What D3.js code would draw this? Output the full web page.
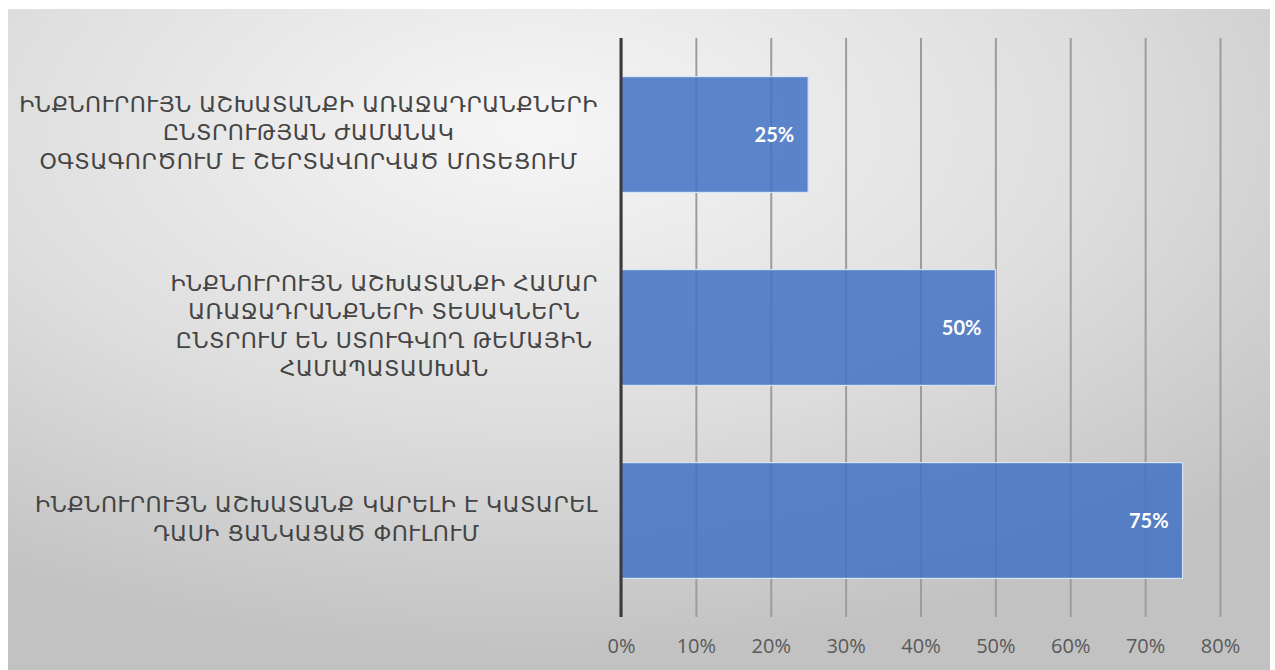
<!DOCTYPE html>
<html>
<head>
<meta charset="utf-8">
<script src="https://cdn.jsdelivr.net/npm/d3@7"></script>
<style>
  body { margin: 0; background: #fff; }
  svg { display: block; }
</style>
</head>
<body>
<div id="chart"></div>
<script>
const svgWidth = 1275
const svgHeight = 670

// category labels, already wrapped as in the picture
const categories = [
  ["ԻՆՔՆՈՒՐՈՒՅՆ ԱՇԽԱՏԱՆՔԻ ԱՌԱՋԱԴՐԱՆՔՆԵՐԻ", "ԸՆՏՐՈՒԹՅԱՆ ԺԱՄԱՆԱԿ", "ՕԳՏԱԳՈՐԾՈՒՄ Է ՇԵՐՏԱՎՈՐՎԱԾ ՄՈՏԵՑՈՒՄ"],
  ["ԻՆՔՆՈՒՐՈՒՅՆ ԱՇԽԱՏԱՆՔԻ ՀԱՄԱՐ", "ԱՌԱՋԱԴՐԱՆՔՆԵՐԻ ՏԵՍԱԿՆԵՐՆ", "ԸՆՏՐՈՒՄ ԵՆ ՍՏՈՒԳՎՈՂ ԹԵՄԱՅԻՆ", "ՀԱՄԱՊԱՏԱՍԽԱՆ"],
  ["ԻՆՔՆՈՒՐՈՒՅՆ ԱՇԽԱՏԱՆՔ ԿԱՐԵԼԻ Է ԿԱՏԱՐԵԼ", "ԴԱՍԻ ՑԱՆԿԱՑԱԾ ՓՈՒԼՈՒՄ"]
]
const values = [25, 50, 75]
const tickValues = [0, 10, 20, 30, 40, 50, 60, 70, 80]

const plot = { left: 621, right: 1220, top: 38, bottom: 617 }
const labelRight = 598
const lineHeight = 28.5

const svg = d3.select("#chart").append("svg")
  .attr("width", svgWidth)
  .attr("height", svgHeight)

const defs = svg.append("defs")
const grad = defs.append("radialGradient")
  .attr("id", "bg")
  .attr("cx", "42%").attr("cy", "18%")
  .attr("r", "80%")
  .attr("gradientUnits", "objectBoundingBox")
grad.append("stop").attr("offset", "0%").attr("stop-color", "#f6f6f6")
grad.append("stop").attr("offset", "55%").attr("stop-color", "#dedede")
grad.append("stop").attr("offset", "100%").attr("stop-color", "#c2c2c2")

svg.append("rect")
  .attr("x", 8).attr("y", 9)
  .attr("width", 1262).attr("height", svgHeight - 9)
  .attr("fill", "url(#bg)")

const x = d3.scaleLinear()
  .domain([0, 80])
  .range([plot.left, plot.right])

const y = d3.scaleBand()
  .domain(d3.range(categories.length))
  .range([plot.top, plot.bottom])
  .paddingInner(0.4)
  .paddingOuter(0.2)

// gridlines
const grid = svg.append("g")
  .attr("transform", `translate(0, ${plot.bottom})`)
  .call(d3.axisBottom(x).tickValues(tickValues).tickSize(-(plot.bottom - plot.top)).tickFormat(""))
grid.select(".domain").remove()
grid.selectAll("line")
  .attr("stroke", "#9c9c9c")
  .attr("stroke-width", 2)

// bars
svg.selectAll("rect.bar")
  .data(values)
  .enter()
  .append("rect")
  .attr("class", "bar")
  .attr("x", x(0))
  .attr("y", (d, i) => y(i))
  .attr("width", d => x(d) - x(0))
  .attr("height", y.bandwidth())
  .attr("fill", "#4472c4")
  .attr("fill-opacity", 0.86)
  .attr("stroke", "#d6e4f5")
  .attr("stroke-width", 1.2)

// value labels
svg.selectAll("text.val")
  .data(values)
  .enter()
  .append("text")
  .attr("class", "val")
  .attr("x", d => x(d) - 14)
  .attr("y", (d, i) => y(i) + y.bandwidth() / 2)
  .attr("dy", "0.36em")
  .attr("text-anchor", "end")
  .attr("fill", "#ffffff")
  .style("font-family", "Lato, 'Open Sans', sans-serif")
  .style("font-weight", "bold")
  .style("font-size", "20px")
  .text(d => d + "%")

// zero axis line
svg.append("line")
  .attr("x1", x(0)).attr("x2", x(0))
  .attr("y1", plot.top).attr("y2", plot.bottom)
  .attr("stroke", "#3a3a3a")
  .attr("stroke-width", 3)

// x tick labels
const xAxis = svg.append("g")
  .attr("transform", `translate(0, ${plot.bottom})`)
  .call(d3.axisBottom(x).tickValues(tickValues).tickSize(0).tickPadding(22).tickFormat(d => d + "%"))
xAxis.select(".domain").remove()
xAxis.selectAll("text")
  .attr("fill", "#595959")
  .style("font-family", "'Open Sans', sans-serif")
  .style("font-size", "20px")

// category labels
const labels = svg.selectAll("g.cat")
  .data(categories)
  .enter()
  .append("g")
  .attr("class", "cat")

labels.each(function(lines, i) {
  const g = d3.select(this)
  const cy = y(i) + y.bandwidth() / 2 - 2
  const t = g.append("text")
    .attr("text-anchor", "middle")
    .attr("fill", "#444444")
    .style("font-family", "'DejaVu Sans', 'Noto Sans', sans-serif")
    .style("font-size", "22px")
    .style("letter-spacing", "0.5px")
  lines.forEach((line, k) => {
    t.append("tspan")
      .attr("x", 0)
      .attr("y", cy + (k - (lines.length - 1) / 2) * lineHeight)
      .attr("dy", "0.36em")
      .text(line)
  })
  const w = d3.max(t.selectAll("tspan").nodes(), n => n.getComputedTextLength())
  t.attr("transform", `translate(${labelRight - w / 2}, 0)`)
})
</script>
</body>
</html>
